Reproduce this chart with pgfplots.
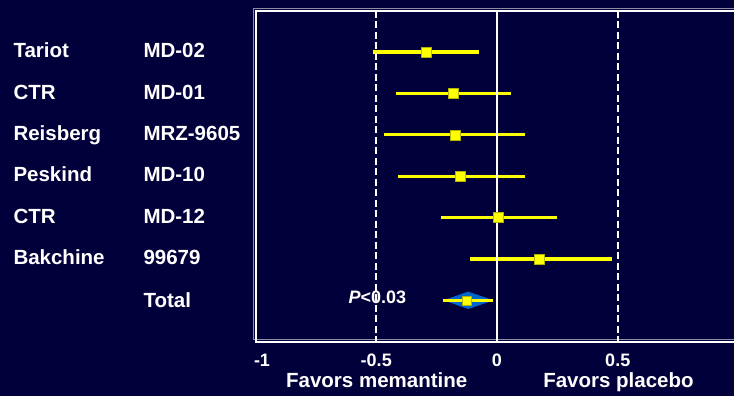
\documentclass[border=0pt]{standalone}
\usepackage{pgfplots}
\pgfplotsset{compat=1.18}
\usepackage{pgfplotstable}
\usepackage{fontspec}
\setmainfont{Liberation Sans}
\definecolor{bg}{RGB}{2,0,58}
\definecolor{diam}{RGB}{0,102,204}
\definecolor{yel}{RGB}{255,255,0}

\pgfplotstableread{
row est
1 -0.293
2 -0.183
3 -0.174
4 -0.153
5 0.005
6 0.175
}\studies

\pgfplotstableread{
row est
7 -0.124
}\total

\newcommand{\labfont}{\fontsize{20.5}{20.5}\selectfont\bfseries}
\newcommand{\tickfont}{\fontsize{18}{18}\selectfont\bfseries}

\begin{document}
\begin{tikzpicture}
\useasboundingbox (0pt,0pt) rectangle (734pt,-396pt);
\clip (0pt,0pt) rectangle (734pt,-396pt);
\fill[bg] (0pt,0pt) rectangle (734pt,-396pt);
\draw[white!55!bg, line width=0.8pt] (760pt,-8.3pt) -- (253.3pt,-8.3pt) -- (253.3pt,-339pt) -- (760pt,-339pt);
\begin{axis}[
  at={(255.5pt,-341.7pt)}, anchor=south west,
  scale only axis, width=483pt, height=331.2pt,
  xmin=-1, xmax=1, ymin=0, ymax=8, y dir=reverse,
  axis line style={white, line width=2pt},
  ytick=\empty,
  xtick={-1,-0.5,0,0.5,1},
  xticklabels={\hspace*{13pt}-1,-0.5,0,0.5,1},
  major tick length=0pt,
  xticklabel style={anchor=base, yshift=-24.3pt, font=\tickfont, text=white, inner sep=0pt},
  clip=false,
  ci/.style={yel, line width=3.2pt, line cap=butt, forget plot},
]
% diamond for pooled estimate
\addplot[fill=diam, draw=none] coordinates {(-0.222,7) (-0.119,6.79) (-0.015,7) (-0.119,7.21)} -- cycle;
% confidence intervals
\addplot[ci] coordinates {(-0.512,1) (-0.073,1)};
\addplot[ci] coordinates {(-0.419,2) (0.057,2)};
\addplot[ci] coordinates {(-0.469,3) (0.117,3)};
\addplot[ci] coordinates {(-0.410,4) (0.117,4)};
\addplot[ci] coordinates {(-0.231,5) (0.247,5)};
\addplot[ci] coordinates {(-0.111,6) (0.477,6)};
\addplot[ci] coordinates {(-0.222,7) (-0.015,7)};
% point estimates
\addplot[only marks, mark=square*, mark size=5pt, mark options={fill=yel, draw=yel!70!black, line width=0.4pt}]
  table[x=est, y=row] {\studies};
\addplot[only marks, mark=square*, mark size=4.4pt, mark options={fill=yel, draw=yel!70!black, line width=0.4pt}]
  table[x=est, y=row] {\total};
% reference lines
\addplot[white, line width=2pt] coordinates {(0,0) (0,8)};
\addplot[white, line width=2pt, dash pattern=on 7pt off 3.5pt] coordinates {(-0.5,0) (-0.5,8)};
\addplot[white, line width=2pt, dash pattern=on 7pt off 3.5pt] coordinates {(0.5,0) (0.5,8)};
\end{axis}
% study labels
\begin{scope}[every node/.style={anchor=base west, inner sep=0pt, text=white, font=\labfont}]
\node at (13.3pt,-57.7pt) {Tariot};    \node at (143.3pt,-57.7pt) {MD-02};
\node at (13.3pt,-99.1pt) {CTR};       \node at (143.3pt,-99.1pt) {MD-01};
\node at (13.3pt,-140.5pt) {Reisberg}; \node at (143.3pt,-140.5pt) {MRZ-9605};
\node at (13.3pt,-181.9pt) {Peskind};  \node at (143.3pt,-181.9pt) {MD-10};
\node at (13.3pt,-223.3pt) {CTR};      \node at (143.3pt,-223.3pt) {MD-12};
\node at (13.3pt,-264.7pt) {Bakchine}; \node at (143.3pt,-264.7pt) {99679};
\node at (143.3pt,-307pt) {Total};
\end{scope}
\node[anchor=base west, inner sep=0pt, text=white, font=\tickfont] at (348.3pt,-303.3pt) {\textit{P}<0.03};
\node[anchor=base, inner sep=0pt, text=white, font=\labfont] at (376.7pt,-387pt) {Favors memantine};
\node[anchor=base, inner sep=0pt, text=white, font=\labfont] at (618.5pt,-387pt) {Favors placebo};
\end{tikzpicture}
\end{document}
